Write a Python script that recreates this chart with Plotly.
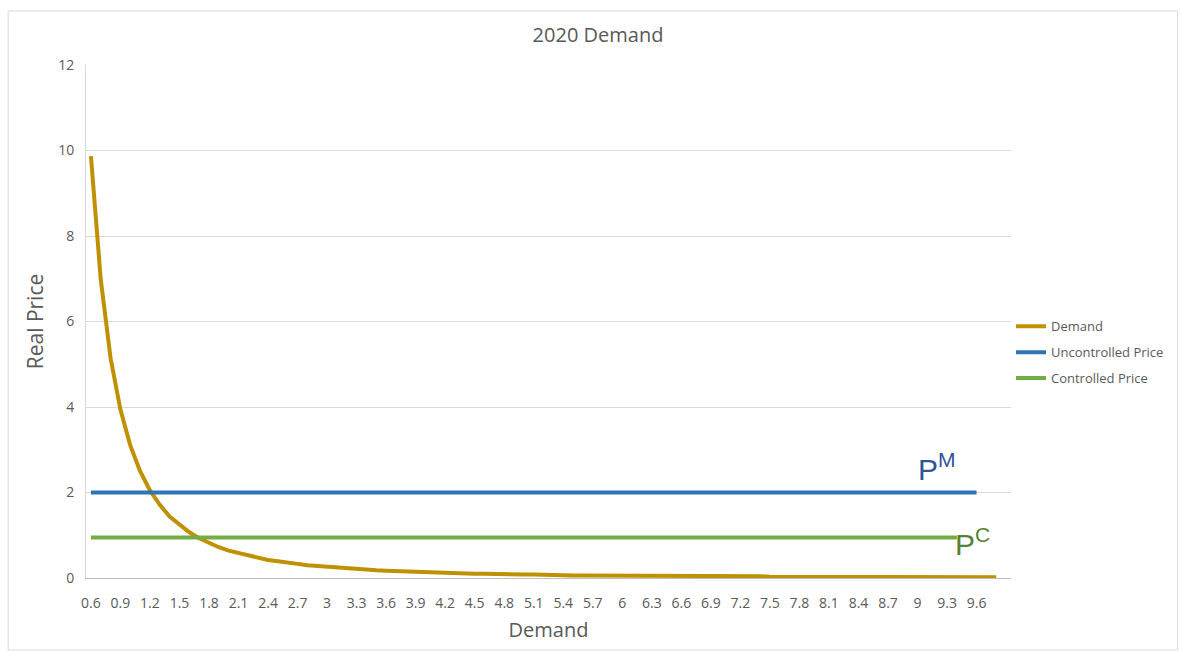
import plotly.graph_objects as go

# Category labels (Demand quantity 0.6 .. 9.9)
quantity = [f"{v/10:g}" for v in range(6, 100)]

# Demand curve (real price), 0.6 .. 9.8
demand = [9.87, 6.98, 5.14, 3.94, 3.10, 2.50, 2.05, 1.71, 1.44, 1.24,
          1.07, 0.93, 0.82, 0.72, 0.64, 0.58, 0.52, 0.47, 0.42, 0.39,
          0.35, 0.33, 0.30, 0.28, 0.26, 0.24, 0.22, 0.21, 0.19, 0.18,
          0.17, 0.16, 0.15, 0.14, 0.13, 0.13, 0.12, 0.12, 0.11, 0.10,
          0.10, 0.09, 0.09, 0.08, 0.08, 0.08, 0.07, 0.07, 0.07, 0.06,
          0.06, 0.06, 0.06, 0.06, 0.05, 0.05, 0.05, 0.05, 0.05, 0.05,
          0.04, 0.04, 0.04, 0.04, 0.04, 0.04, 0.04, 0.04, 0.04, 0.03,
          0.03, 0.03, 0.03, 0.03, 0.03, 0.03, 0.03, 0.03, 0.03, 0.02,
          0.02, 0.02, 0.02, 0.02, 0.02, 0.02, 0.02, 0.02, 0.02, 0.02,
          0.02, 0.02, 0.02]

uncontrolled_price = 2.0
uncontrolled_end = "9.6"
controlled_price = 0.95
controlled_end = "9.4"

# Excel shows every third label, up to 9.6
tick_labels = quantity[:91:3]

un_x = quantity[:quantity.index(uncontrolled_end) + 1]
co_x = quantity[:quantity.index(controlled_end) + 1]

fig = go.Figure()
fig.add_trace(go.Scatter(x=quantity[:len(demand)], y=demand, mode="lines", name="Demand",
                         legendgroup="a", line=dict(color="#BF9000", width=4)))
fig.add_trace(go.Scatter(x=un_x, y=[uncontrolled_price] * len(un_x), mode="lines",
                         name="Uncontrolled Price", legendgroup="b",
                         line=dict(color="#2E75B6", width=4)))
fig.add_trace(go.Scatter(x=co_x, y=[controlled_price] * len(co_x), mode="lines",
                         name="Controlled Price", legendgroup="c",
                         line=dict(color="#70AD47", width=4)))

grey = "#595959"
fig.update_layout(
    width=1181, height=651,
    margin=dict(l=86, r=168, t=65, b=73),
    paper_bgcolor="white", plot_bgcolor="white",
    font=dict(family="Open Sans, Calibri, sans-serif", color=grey, size=14),
    title=dict(text="2020 Demand", x=(598) / 1181, xanchor="center", y=1 - 35 / 651,
               yanchor="middle", font=dict(size=20, color=grey)),
    legend=dict(x=1.0, xanchor="left", y=0.44, yanchor="middle",
                font=dict(size=13, color=grey), tracegroupgap=6,
                traceorder="grouped"),
    xaxis=dict(type="category", categoryorder="array", categoryarray=quantity,
               range=[-0.5, len(quantity) - 0.5],
               tickmode="array", tickvals=tick_labels, ticktext=tick_labels,
               showgrid=False, showline=True, linecolor="#BFBFBF", linewidth=1,
               ticks="outside", ticklen=12, tickcolor="rgba(0,0,0,0)",
               tickfont=dict(size=14, color=grey),
               title=dict(text="Demand", font=dict(size=20, color=grey), standoff=12)),
    yaxis=dict(range=[0, 12], dtick=2, showgrid=True, gridcolor="#D9D9D9",
               zeroline=False, showline=True, linecolor="#D9D9D9",
               ticks="outside", ticklen=8, tickcolor="rgba(0,0,0,0)",
               tickfont=dict(size=14, color=grey),
               title=dict(text="Real Price", font=dict(size=21, color=grey), standoff=8)),
    shapes=[dict(type="rect", xref="paper", yref="paper",
                 x0=(8 - 86) / 927, x1=(1180 - 86) / 927,
                 y0=(578 - 650) / 513, y1=(578 - 11) / 513,
                 line=dict(color="#D9D9D9", width=1), fillcolor="rgba(0,0,0,0)", layer="below")],
    annotations=[
        dict(x=86, y=2.6, xref="x", yref="y", text="P<sup>M</sup>", showarrow=False,
             font=dict(family="Arial, Liberation Sans, sans-serif", size=30, color="#2F5597"),
             xanchor="center", yanchor="middle"),
        dict(x=89.6, y=0.85, xref="x", yref="y", text="P<sup>C</sup>", showarrow=False,
             font=dict(family="Arial, Liberation Sans, sans-serif", size=30, color="#548235"),
             xanchor="center", yanchor="middle"),
    ],
)

fig.write_html("out.html")
